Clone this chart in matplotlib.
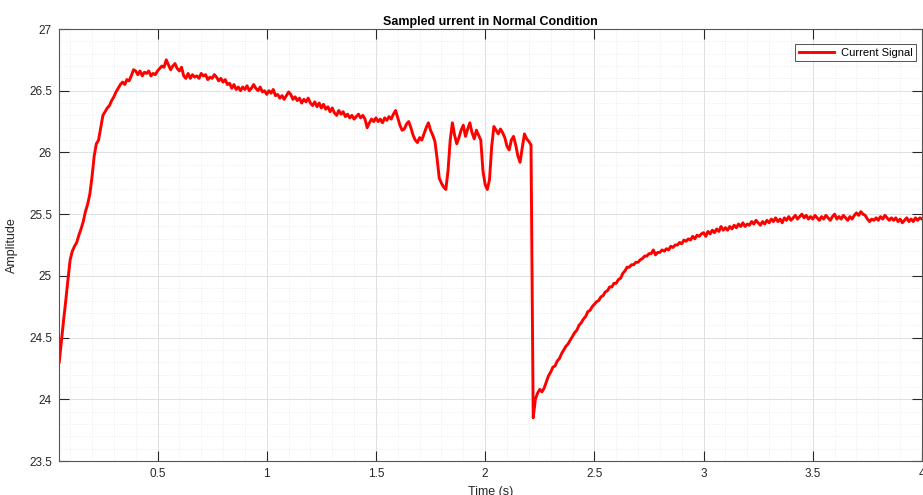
import numpy as np
import matplotlib
matplotlib.use("Agg")
import matplotlib.pyplot as plt
from matplotlib.ticker import MultipleLocator

# ---- data ----
t_start = 0.05
t_step = 0.01

current_signal = [
    # 0.05 - 0.09
    24.30, 24.47, 24.64, 24.80, 24.97,
    # 0.10 - 0.19
    25.13, 25.20, 25.24, 25.27, 25.33, 25.38, 25.44, 25.52, 25.58, 25.66,
    # 0.20 - 0.29
    25.80, 25.97, 26.07, 26.10, 26.20, 26.30, 26.33, 26.36, 26.38, 26.42,
    # 0.30 - 0.39
    26.45, 26.49, 26.52, 26.55, 26.57, 26.55, 26.59, 26.58, 26.62, 26.67,
    # 0.40 - 0.49
    26.66, 26.63, 26.66, 26.62, 26.65, 26.64, 26.66, 26.62, 26.64, 26.63,
    # 0.50 - 0.59
    26.66, 26.68, 26.70, 26.69, 26.75, 26.71, 26.67, 26.70, 26.72, 26.68,
    # 0.60 - 0.69
    26.66, 26.69, 26.62, 26.60, 26.64, 26.60, 26.63, 26.61, 26.62, 26.60,
    # 0.70 - 0.79
    26.64, 26.62, 26.63, 26.59, 26.61, 26.60, 26.63, 26.61, 26.58, 26.60,
    # 0.80 - 0.89
    26.57, 26.59, 26.55, 26.56, 26.52, 26.55, 26.51, 26.53, 26.50, 26.53,
    # 0.90 - 0.99
    26.51, 26.54, 26.50, 26.52, 26.55, 26.52, 26.50, 26.53, 26.49, 26.50,
    # 1.00 - 1.09
    26.47, 26.50, 26.48, 26.51, 26.46, 26.47, 26.44, 26.46, 26.43, 26.46,
    # 1.10 - 1.19
    26.49, 26.47, 26.43, 26.45, 26.42, 26.44, 26.40, 26.43, 26.41, 26.44,
    # 1.20 - 1.29
    26.40, 26.38, 26.41, 26.37, 26.40, 26.36, 26.39, 26.35, 26.37, 26.33,
    # 1.30 - 1.39
    26.36, 26.32, 26.30, 26.34, 26.31, 26.33, 26.29, 26.31, 26.28, 26.30,
    # 1.40 - 1.49
    26.27, 26.29, 26.31, 26.28, 26.30, 26.27, 26.20, 26.24, 26.27, 26.25,
    # 1.50 - 1.59
    26.28, 26.25, 26.27, 26.24, 26.28, 26.26, 26.29, 26.27, 26.31, 26.34,
    # 1.60 - 1.69
    26.28, 26.22, 26.18, 26.19, 26.23, 26.25, 26.20, 26.14, 26.10, 26.08,
    # 1.70 - 1.79
    26.12, 26.10, 26.15, 26.20, 26.24, 26.18, 26.14, 26.09, 25.95, 25.79,
    # 1.80 - 1.89
    25.75, 25.72, 25.70, 25.85, 26.10, 26.24, 26.14, 26.07, 26.12, 26.18,
    # 1.90 - 1.99
    26.22, 26.13, 26.19, 26.24, 26.16, 26.11, 26.18, 26.14, 26.10, 25.85,
    # 2.00 - 2.09
    25.74, 25.70, 25.78, 26.05, 26.21, 26.18, 26.15, 26.19, 26.16, 26.12,
    # 2.10 - 2.19
    26.05, 26.02, 26.10, 26.13, 26.06, 25.97, 25.92, 26.04, 26.15, 26.11,
    # 2.20 - 2.29
    26.09, 26.06, 23.85, 24.00, 24.05, 24.08, 24.06, 24.09, 24.14, 24.19,
    # 2.30 - 2.39
    24.22, 24.26, 24.27, 24.31, 24.33, 24.37, 24.40, 24.43, 24.45, 24.48,
    # 2.40 - 2.49
    24.51, 24.54, 24.56, 24.60, 24.62, 24.65, 24.67, 24.71, 24.72, 24.75,
    # 2.50 - 2.59
    24.77, 24.79, 24.80, 24.83, 24.84, 24.87, 24.88, 24.91, 24.91, 24.94,
    # 2.60 - 2.69
    24.94, 24.97, 24.98, 25.02, 25.04, 25.07, 25.07, 25.09, 25.09, 25.11,
    # 2.70 - 2.79
    25.11, 25.13, 25.14, 25.16, 25.16, 25.18, 25.18, 25.21, 25.17, 25.19,
    # 2.80 - 2.89
    25.19, 25.21, 25.20, 25.22, 25.21, 25.24, 25.23, 25.25, 25.25, 25.27,
    # 2.90 - 2.99
    25.26, 25.29, 25.28, 25.30, 25.29, 25.32, 25.30, 25.33, 25.32, 25.34,
    # 3.00 - 3.09
    25.35, 25.32, 25.36, 25.34, 25.37, 25.35, 25.38, 25.36, 25.40, 25.37,
    # 3.10 - 3.19
    25.39, 25.37, 25.40, 25.38, 25.41, 25.39, 25.42, 25.40, 25.43, 25.40,
    # 3.20 - 3.29
    25.42, 25.41, 25.44, 25.42, 25.45, 25.43, 25.41, 25.44, 25.42, 25.45,
    # 3.30 - 3.39
    25.43, 25.46, 25.44, 25.47, 25.44, 25.46, 25.43, 25.47, 25.45, 25.48,
    # 3.40 - 3.49
    25.45, 25.47, 25.49, 25.46, 25.48, 25.50, 25.47, 25.49, 25.46, 25.48,
    # 3.50 - 3.59
    25.46, 25.49, 25.47, 25.45, 25.48, 25.46, 25.49, 25.47, 25.45, 25.48,
    # 3.60 - 3.69
    25.50, 25.46, 25.48, 25.46, 25.49, 25.47, 25.45, 25.48, 25.46, 25.49,
    # 3.70 - 3.79
    25.51, 25.49, 25.52, 25.50, 25.49, 25.46, 25.44, 25.46, 25.45, 25.47,
    # 3.80 - 3.89
    25.45, 25.48, 25.46, 25.49, 25.47, 25.45, 25.47, 25.45, 25.47, 25.44,
    # 3.90 - 3.99
    25.46, 25.43, 25.45, 25.47, 25.44, 25.46, 25.44, 25.47, 25.45, 25.47,
    # 4.00
    25.46,
]

time_s = np.round(t_start + t_step * np.arange(len(current_signal)), 2)

x_ticks = [0.5, 1, 1.5, 2, 2.5, 3, 3.5, 4]
x_tick_labels = ["0.5", "1", "1.5", "2", "2.5", "3", "3.5", "4"]
y_ticks = [23.5, 24, 24.5, 25, 25.5, 26, 26.5, 27]
y_tick_labels = ["23.5", "24", "24.5", "25", "25.5", "26", "26.5", "27"]

title_text = "Sampled urrent in Normal Condition"
x_label = "Time (s)"
y_label = "Amplitude"
legend_label = "Current Signal"

# ---- figure ----
plt.rcParams["font.family"] = ["Liberation Sans", "DejaVu Sans"]
W, H = 923, 495
fig = plt.figure(figsize=(W / 100, H / 100), dpi=100)
ax = fig.add_axes([59 / W, (H - 461) / H, (922 - 59) / W, (461 - 29) / H])

ax.plot(time_s, current_signal, color="#ff0000", lw=2.1, label=legend_label)

ax.set_xlim(0.049, 4.0)
ax.set_ylim(23.5, 27)
ax.set_xticks(x_ticks)
ax.set_xticklabels(x_tick_labels)
ax.set_yticks(y_ticks)
ax.set_yticklabels(y_tick_labels)
ax.xaxis.set_minor_locator(MultipleLocator(0.1))
ax.yaxis.set_minor_locator(MultipleLocator(0.1))

axis_col = "#262626"
ax.tick_params(which="major", direction="in", length=7, width=0.8, colors=axis_col,
               labelcolor=axis_col, labelsize=8.5, top=True, right=True, pad=5)
ax.tick_params(which="minor", length=0, top=True, right=True)
for s in ax.spines.values():
    s.set_color("#555555")
    s.set_linewidth(0.8)

ax.grid(which="major", color="#e0e0e0", lw=0.7, ls="-")
ax.grid(which="minor", color="#e6e6e6", lw=0.6, ls=(0, (1, 2)))
ax.set_axisbelow(True)

ax.set_title(title_text, fontsize=9, fontweight="bold", color="#000000", pad=3)
ax.set_xlabel(x_label, fontsize=9, color=axis_col, labelpad=4)
ax.set_ylabel(y_label, fontsize=9, color=axis_col, labelpad=8)

leg = ax.legend(loc="upper right", fontsize=8, frameon=True, fancybox=False,
                handlelength=3.2, borderpad=0.3, handletextpad=0.6,
                bbox_to_anchor=(0.9995, 0.977))
leg.get_frame().set_edgecolor("#262626")
leg.get_frame().set_linewidth(0.7)
for txt in leg.get_texts():
    txt.set_color("#000000")

fig.savefig("out.png", dpi=100)
